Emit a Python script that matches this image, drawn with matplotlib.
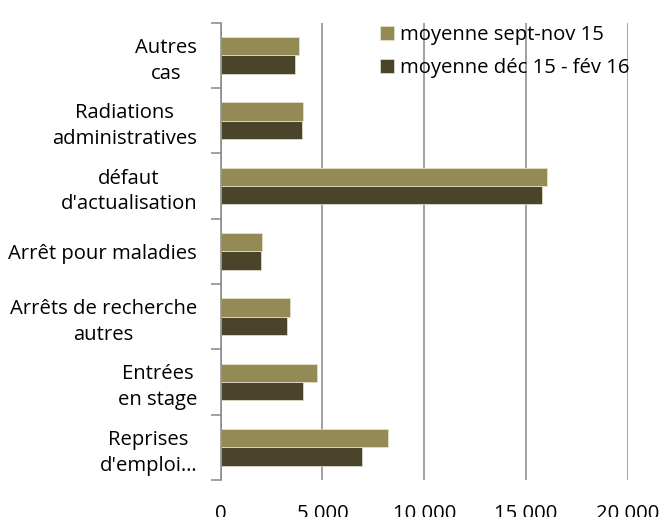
import matplotlib
matplotlib.use("Agg")
import matplotlib.pyplot as plt
import numpy as np

categories = ["Reprises\nd'emploi…", "Entrées\nen stage", "Arrêts de recherche\nautres",
              "Arrêt pour maladies", "défaut\nd'actualisation", "Radiations\nadministratives",
              "Autres\ncas"]
sept_nov = [8240, 4720, 3400, 2050, 16050, 4030, 3830]
dec_fev = [6930, 4060, 3260, 1980, 15770, 3980, 3650]
series_names = ["moyenne sept-nov 15", "moyenne déc 15 - fév 16"]
xticks = [0, 5000, 10000, 15000, 20000]
xtick_labels = ["0", "5 000", "10 000", "15 000", "20 000"]

plt.rcParams['font.family'] = ['Open Sans', 'DejaVu Sans']
FS = 14.6

fig = plt.figure(figsize=(6.62, 5.17), dpi=100)
ax = fig.add_axes([0.3334, 0.0716, 0.9482 - 0.3334, 0.9561 - 0.0716])

y = np.arange(len(categories))
h = 0.28
c1 = '#948A54'
c2 = '#4A452A'
ax.barh(y - h / 2, dec_fev, height=h, color=c2, edgecolor='#e8e4d4', linewidth=0.5,
        label=series_names[1], zorder=3)
ax.barh(y + h / 2, sept_nov, height=h, color=c1, edgecolor='#e8e4d4', linewidth=0.5,
        label=series_names[0], zorder=3)

ax.set_xlim(0, 20000)
ax.set_ylim(-0.5, len(categories) - 0.5)

ax.set_xticks(xticks)
ax.set_xticklabels(xtick_labels)
ax.tick_params(axis='x', length=0, pad=17, labelsize=FS, labelcolor='#000000')

ax.set_yticks(np.arange(-0.5, len(categories)), minor=False)
ax.set_yticklabels([])
ax.tick_params(axis='y', which='major', length=7, width=1.1, color='#878787', direction='out')
ax.set_yticks(y, minor=True)
ax.set_yticklabels(categories, minor=True, multialignment='center', linespacing=1.38)
ax.tick_params(axis='y', which='minor', length=0, pad=17, labelsize=FS)

ax.grid(axis='x', color='#878787', linewidth=1.1, zorder=0)
for s in ['top', 'right', 'bottom']:
    ax.spines[s].set_visible(False)
ax.spines['left'].set_color('#878787')
ax.spines['left'].set_linewidth(1.1)
ax.spines['left'].set_zorder(4)

handles, labels = ax.get_legend_handles_labels()
leg = ax.legend(handles[::-1], labels[::-1], loc='upper left', bbox_to_anchor=(0.391, 0.994),
                frameon=False, fontsize=FS, handlelength=0.68, handleheight=0.68,
                handletextpad=0.3, labelspacing=0.62, borderaxespad=0, borderpad=0)

fig.savefig("out.png", dpi=100)
